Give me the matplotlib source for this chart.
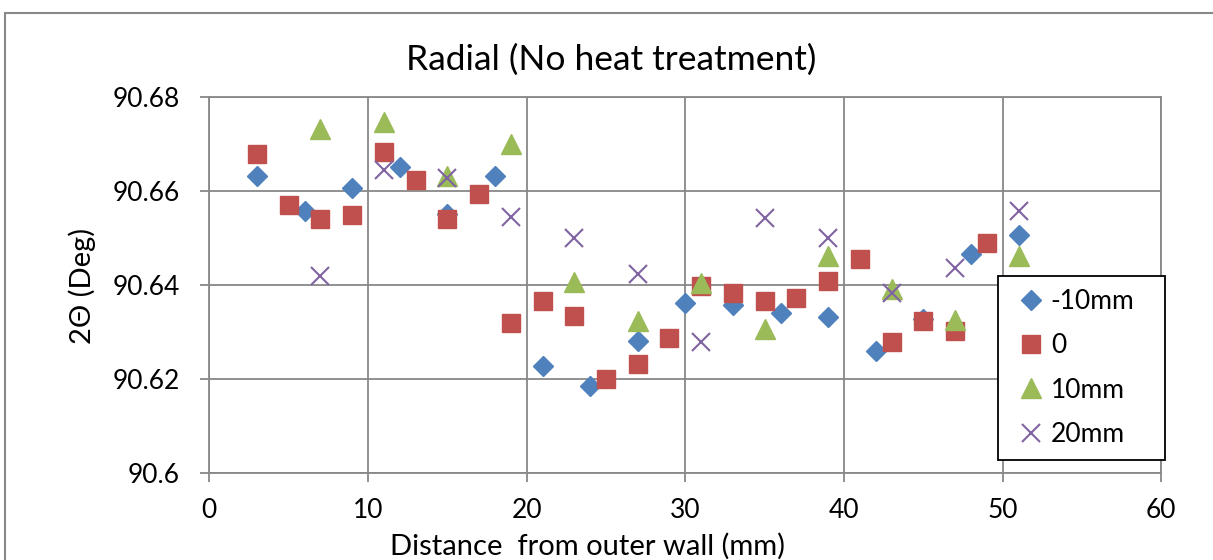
import matplotlib
matplotlib.use('Agg')
import matplotlib.pyplot as plt
from matplotlib.patches import Rectangle

## data
x_m10 = [3, 6, 9, 12, 15, 18, 21, 24, 27, 30, 33, 36, 39, 42, 45, 48, 51]
y_m10 = [90.6633, 90.6557, 90.6608, 90.6652, 90.6552, 90.6633, 90.6228, 90.6186,
         90.6282, 90.6362, 90.6358, 90.6340, 90.6333, 90.6261, 90.6328, 90.6466, 90.6506]

x_0 = [3, 5, 7, 9, 11, 13, 15, 17, 19, 21, 23, 25, 27, 29, 31, 33, 35, 37, 39, 41, 43, 45, 47, 49]
y_0 = [90.6680, 90.6570, 90.6541, 90.6550, 90.6684, 90.6623, 90.6540, 90.6594,
       90.6320, 90.6367, 90.6335, 90.6200, 90.6233, 90.6288, 90.6399, 90.6383,
       90.6367, 90.6372, 90.6410, 90.6456, 90.6279, 90.6324, 90.6302, 90.6489]

x_10 = [7, 11, 15, 19, 23, 27, 31, 35, 39, 43, 47, 51]
y_10 = [90.6732, 90.6748, 90.6633, 90.6700, 90.6408, 90.6324, 90.6405, 90.6308,
        90.6462, 90.6392, 90.6326, 90.6462]

x_20 = [7, 11, 15, 19, 23, 27, 31, 35, 39, 43, 47, 51]
y_20 = [90.6420, 90.6645, 90.6628, 90.6546, 90.6501, 90.6424, 90.6280, 90.6543,
        90.6500, 90.6383, 90.6437, 90.6557]

labels = ['-10mm', '0', '10mm', '20mm']
xticks = [0, 10, 20, 30, 40, 50, 60]
yticks = [90.6, 90.62, 90.64, 90.66, 90.68]
ytick_labels = ['90.6', '90.62', '90.64', '90.66', '90.68']

plt.rcParams['font.family'] = ['Lato', 'DejaVu Sans']
grey = '#888888'

fig = plt.figure(figsize=(12.13, 5.6), dpi=100)
ax = fig.add_axes([0.1726, 0.1548, 0.7848, 0.6715])

# outer chart frame (cut off at right and bottom like the source)
fig.patches.append(Rectangle((5 / 1213, -0.1), 1.2, 1 - 13 / 560 + 0.1, transform=fig.transFigure,
                             fill=False, edgecolor=grey, linewidth=1.5))

ax.plot(x_m10, y_m10, linestyle='none', marker='D', markersize=10.5, color='#4F81BD', label=labels[0], zorder=3)
ax.plot(x_0, y_0, linestyle='none', marker='s', markersize=13, color='#C0504D', label=labels[1], zorder=3)
ax.plot(x_10, y_10, linestyle='none', marker='^', markersize=14.5, color='#9BBB59', label=labels[2], zorder=3)
ax.plot(x_20, y_20, linestyle='none', marker='x', markersize=13.5, markeredgewidth=1.5,
        color='#8064A2', label=labels[3], zorder=3)

ax.set_xlim(0, 60)
ax.set_ylim(90.6, 90.68)
ax.set_xticks(xticks)
ax.set_yticks(yticks)
ax.set_yticklabels(ytick_labels)
ax.grid(True, color=grey, linewidth=1.3)
ax.set_axisbelow(True)
for sp in ax.spines.values():
    sp.set_color(grey)
    sp.set_linewidth(1.3)
ax.tick_params(axis='both', direction='out', length=6.5, width=1.3, color=grey, labelsize=19)
ax.tick_params(axis='x', pad=11)
ax.tick_params(axis='y', pad=15)

# title / axis labels placed like the source
fig.text(611 / 1213, 1 - 70 / 560, 'Radial (No heat treatment)', fontsize=25.5, ha='center', va='baseline')
fig.text(587 / 1213, 1 - 555 / 560, 'Distance  from outer wall (mm)', fontsize=21, ha='center', va='baseline')
fig.text(82 / 1213, 1 - 286 / 560, '2\u0398 (Deg)', fontsize=21, rotation=90, ha='center', va='center')

leg = ax.legend(loc='upper left', bbox_to_anchor=(0.8285, 0.0436, 0.1753, 0.4811), mode='expand',
                fontsize=19, frameon=True, fancybox=False, edgecolor='black', framealpha=1,
                borderpad=0.5, labelspacing=0.73, handlelength=1.5, handletextpad=0.0, borderaxespad=0)
leg.get_frame().set_linewidth(1.3)
leg.set_zorder(5)

fig.savefig('out.png', dpi=100)
